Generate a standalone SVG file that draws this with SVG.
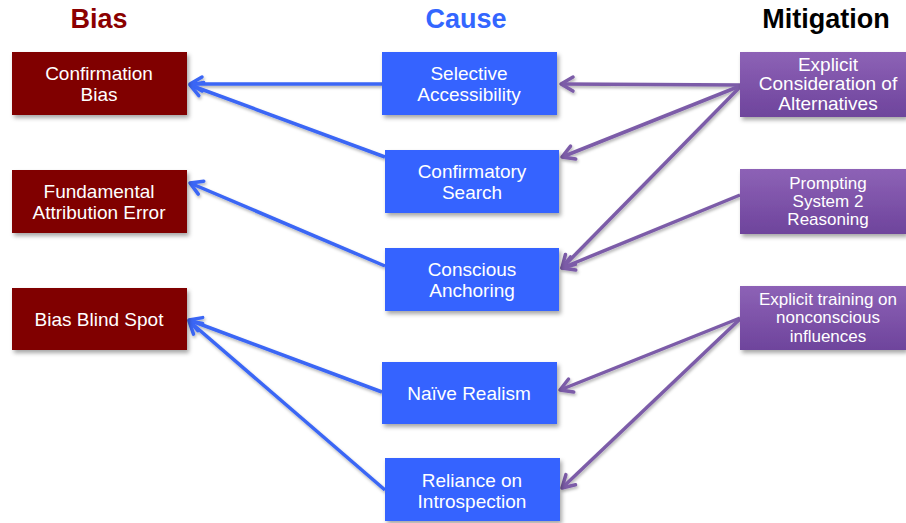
<svg xmlns="http://www.w3.org/2000/svg" width="906" height="523" viewBox="0 0 906 523">
<defs>
<filter id="sh" x="-10%" y="-10%" width="130%" height="140%"><feDropShadow dx="2" dy="3" stdDeviation="2" flood-color="#000" flood-opacity="0.35"/></filter>
<filter id="lsh" filterUnits="userSpaceOnUse" x="0" y="0" width="906" height="523"><feDropShadow dx="1" dy="2" stdDeviation="1.5" flood-color="#000" flood-opacity="0.3"/></filter>
<linearGradient id="pg" x1="0" y1="0" x2="0" y2="1"><stop offset="0" stop-color="#8D62B6"/><stop offset="1" stop-color="#6E449C"/></linearGradient>
<marker id="ab" viewBox="-15 -10 18 20" refX="0" refY="0" markerWidth="18" markerHeight="20" orient="auto" markerUnits="userSpaceOnUse"><path d="M-12,-7 L0,0 L-12,7" fill="none" stroke="#3A66F5" stroke-width="3.5" stroke-linecap="round" stroke-linejoin="round"/></marker>
<marker id="ap" viewBox="-15 -10 18 20" refX="0" refY="0" markerWidth="18" markerHeight="20" orient="auto" markerUnits="userSpaceOnUse"><path d="M-12,-7 L0,0 L-12,7" fill="none" stroke="#7C5CA8" stroke-width="3.5" stroke-linecap="round" stroke-linejoin="round"/></marker>
<style>
.bias{fill:#800000;filter:url(#sh)}
.cause{fill:#3464FF;filter:url(#sh)}
.mit{fill:url(#pg);filter:url(#sh)}
.t{font-family:"Liberation Sans",Arial,sans-serif;font-size:19px;fill:#fff;text-anchor:middle}
.tm{font-family:"Liberation Sans",Arial,sans-serif;font-size:17px;fill:#fff;text-anchor:middle}
.h{font-family:"Liberation Sans",Arial,sans-serif;font-size:27px;font-weight:bold;text-anchor:middle}
.bl{stroke:#3A66F5;stroke-width:3.5;fill:none;marker-end:url(#ab)}
.pl{stroke:#7C5CA8;stroke-width:3.5;fill:none;marker-end:url(#ap)}
</style>
</defs>
<rect width="906" height="523" fill="#fff"/>
<text class="h" x="99" y="28" fill="#8B0000">Bias</text>
<text class="h" x="466" y="28" fill="#3366FF">Cause</text>
<text class="h" x="826" y="28" fill="#000">Mitigation</text>
<g id="connectors" filter="url(#lsh)">
<line class="bl" x1="382" y1="84" x2="190" y2="84"/>
<line class="bl" x1="385" y1="157" x2="190" y2="85"/>
<line class="bl" x1="385" y1="266" x2="190" y2="183"/>
<line class="bl" x1="382" y1="392" x2="189" y2="320"/>
<line class="bl" x1="385" y1="490" x2="189" y2="321"/>
<line class="pl" x1="740" y1="85" x2="561" y2="84"/>
<line class="pl" x1="740" y1="86" x2="562" y2="157"/>
<line class="pl" x1="740" y1="87" x2="562" y2="268"/>
<line class="pl" x1="740" y1="195" x2="562" y2="268"/>
<line class="pl" x1="740" y1="318" x2="560" y2="390"/>
<line class="pl" x1="740" y1="319" x2="562" y2="488"/>
</g>
<g id="bias-confirmation"><rect class="bias" x="12" y="52" width="175" height="63"/><text class="t" x="99" y="80">Confirmation</text><text class="t" x="99" y="101">Bias</text></g>
<g id="bias-fae"><rect class="bias" x="12" y="170" width="175" height="63"/><text class="t" x="99" y="198">Fundamental</text><text class="t" x="99" y="219">Attribution Error</text></g>
<g id="bias-blindspot"><rect class="bias" x="12" y="288" width="175" height="62"/><text class="t" x="99" y="326">Bias Blind Spot</text></g>
<g id="cause-selective"><rect class="cause" x="382" y="52" width="175" height="63"/><text class="t" x="469" y="80">Selective</text><text class="t" x="469" y="101">Accessibility</text></g>
<g id="cause-confirmatory"><rect class="cause" x="385" y="150" width="174" height="63"/><text class="t" x="472" y="178">Confirmatory</text><text class="t" x="472" y="199">Search</text></g>
<g id="cause-anchoring"><rect class="cause" x="385" y="248" width="174" height="63"/><text class="t" x="472" y="276">Conscious</text><text class="t" x="472" y="297">Anchoring</text></g>
<g id="cause-naive"><rect class="cause" x="382" y="362" width="175" height="62"/><text class="t" x="469" y="400">Naïve Realism</text></g>
<g id="cause-introspection"><rect class="cause" x="385" y="458" width="175" height="63"/><text class="t" x="472" y="487">Reliance on</text><text class="t" x="472" y="508">Introspection</text></g>
<g id="mit-alternatives"><rect class="mit" x="740" y="52" width="166" height="65"/><text class="t" x="828" y="71">Explicit</text><text class="t" x="828" y="90">Consideration of</text><text class="t" x="828" y="110">Alternatives</text></g>
<g id="mit-system2"><rect class="mit" x="740" y="169" width="166" height="65"/><text class="tm" x="828" y="189">Prompting</text><text class="tm" x="828" y="207">System 2</text><text class="tm" x="828" y="225">Reasoning</text></g>
<g id="mit-training"><rect class="mit" x="740" y="286" width="166" height="64"/><text class="tm" x="828" y="305">Explicit training on</text><text class="tm" x="828" y="323">nonconscious</text><text class="tm" x="828" y="342">influences</text></g>
</svg>
